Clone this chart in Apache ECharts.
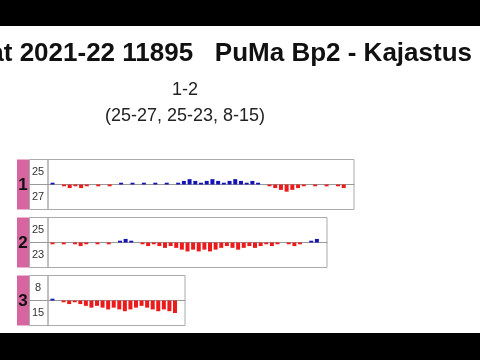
<!DOCTYPE html>
<html><head><meta charset="utf-8">
<script src="https://cdn.jsdelivr.net/npm/echarts@6/dist/echarts.min.js"></script>
<style>html,body{margin:0;padding:0;background:#fff;}#c{width:480px;height:360px;}</style>
</head><body><div id="c"></div><script>
const matchTitle = 'at 2021-22 11895   PuMa Bp2 - Kajastus';
const setNumbers = ['1', '2', '3'];
const homeScores = [25, 25, 8];
const awayScores = [27, 23, 15];
const set1Diff = [1,0,-1,-2,-1,-2,-1,0,-1,0,-1,0,1,0,1,0,1,0,1,0,1,0,1,2,3,2,1,2,3,2,1,2,3,2,1,2,1,0,-1,-2,-3,-4,-3,-2,-1,0,-1,0,-1,0,-1,-2];
const set2Diff = [-1,0,-1,0,-1,-2,-1,0,-1,0,-1,0,1,2,1,0,-1,-2,-1,-2,-3,-2,-3,-4,-5,-4,-5,-4,-5,-4,-3,-2,-3,-4,-3,-2,-3,-2,-1,-2,-1,0,-1,-2,-1,0,1,2];
const set3Diff = [1,0,-1,-2,-1,-2,-3,-4,-3,-4,-5,-4,-5,-6,-5,-4,-3,-4,-5,-6,-5,-6,-7];
const setDiffs = [set1Diff, set2Diff, set3Diff];

const setsWonHome = homeScores.filter((h, i) => h > awayScores[i]).length;
const setsWonAway = homeScores.length - setsWonHome;
const resultLine = setsWonHome + '-' + setsWonAway;
const scoreLine = '(' + homeScores.map((h, i) => h + '-' + awayScores[i]).join(', ') + ')';

const chart = echarts.init(document.getElementById('c'), null, {renderer: 'canvas'});
const FONT = '"Liberation Sans", Arial, sans-serif';
const PLOT_LEFT = 48, PANEL_H = 50;
const tops = [159.5, 217.5, 275.5];
const widths = [306, 279, 137];
const BLUE = '#1414b4', RED = '#ec1a1a';
const grids = [], xAxes = [], yAxes = [], series = [], graphics = [];

function txt(x, y, text, font, align, fill) {
  return {type: 'text', x: x, y: y, z: 50, style: {text: text, font: font, fill: fill || '#111',
    align: align, textAlign: align, verticalAlign: 'middle', textVerticalAlign: 'middle'}};
}

setDiffs.forEach((d, k) => {
  const n = d.length;
  grids.push({left: PLOT_LEFT, top: tops[k], width: widths[k], height: PANEL_H, show: true,
    borderColor: '#aaa', borderWidth: 1, backgroundColor: '#fff'});
  xAxes.push({gridIndex: k, type: 'value', min: -0.8, max: n + 0.8,
    axisLine: {show: true, onZero: true, lineStyle: {color: '#999', width: 1}},
    axisTick: {show: false}, axisLabel: {show: false}, splitLine: {show: false}});
  yAxes.push({gridIndex: k, type: 'value', min: -14, max: 14, interval: 7,
    axisLine: {show: false}, axisTick: {show: false}, splitLine: {show: false},
    axisLabel: {show: true, margin: 10, align: 'center', fontSize: 11, color: '#333', fontFamily: FONT,
      formatter: v => v === 7 ? String(homeScores[k]) : (v === -7 ? String(awayScores[k]) : '')}});
  series.push({type: 'bar', xAxisIndex: k, yAxisIndex: k, barWidth: 4, silent: true,
    data: d.map((v, i) => [i, v]),
    itemStyle: {color: p => p.value[1] >= 0 ? BLUE : RED}});
  graphics.push({type: 'rect', shape: {x: 17, y: tops[k], width: 12, height: PANEL_H}, style: {fill: '#d7659f'}});
  graphics.push({type: 'rect', shape: {x: 29.5, y: tops[k], width: 18.5, height: PANEL_H}, style: {fill: 'none', stroke: '#aaa', lineWidth: 1}});
  graphics.push({type: 'line', shape: {x1: 29.5, y1: tops[k] + 25, x2: 48, y2: tops[k] + 25}, style: {stroke: '#999', lineWidth: 1}});
  graphics.push(txt(23, tops[k] + 26, setNumbers[k], 'bold 17px ' + FONT, 'center', '#111'));
});

graphics.push(txt(472, 54, matchTitle, 'bold 26px ' + FONT, 'right', '#111'));
graphics.push(txt(185, 90, resultLine, '18px ' + FONT, 'center', '#222'));
graphics.push(txt(185, 116, scoreLine, '18px ' + FONT, 'center', '#222'));
graphics.push({type: 'rect', z: 100, shape: {x: 0, y: 0, width: 480, height: 26}, style: {fill: '#000'}});
graphics.push({type: 'rect', z: 100, shape: {x: 0, y: 333, width: 480, height: 27}, style: {fill: '#000'}});

chart.setOption({
  animation: false,
  backgroundColor: '#fff',
  grid: grids, xAxis: xAxes, yAxis: yAxes, series: series,
  graphic: {elements: graphics}
});
</script></body></html>
